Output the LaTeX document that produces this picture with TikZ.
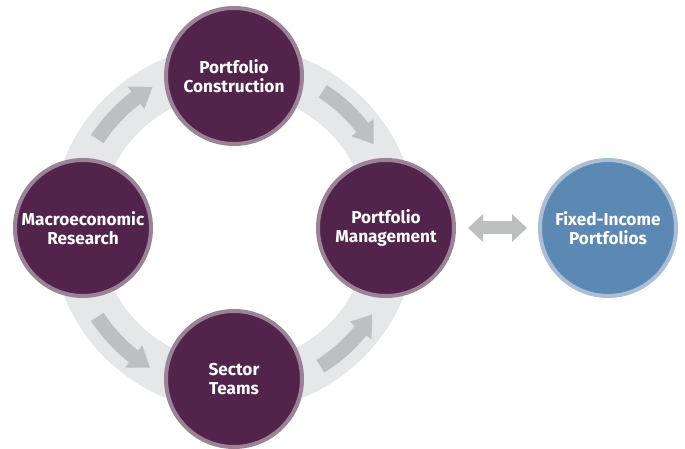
\documentclass[tikz,border=0pt]{standalone}
\usepackage{fontspec}
\setmainfont{Fira Sans}
\usetikzlibrary{arrows.meta,calc}
\definecolor{plum}{RGB}{82,36,75}
\definecolor{plumedge}{RGB}{155,130,150}
\definecolor{steel}{RGB}{92,137,180}
\definecolor{steeledge}{RGB}{170,190,214}
\definecolor{ringgray}{RGB}{230,231,233}
\definecolor{arrowgray}{RGB}{190,191,193}
\newcommand{\ringarrow}[3]{%
  \fill[arrowgray] ($(c)+(#1:155.5)$) arc[start angle=#1, end angle=#2, radius=155.5]
    -- ($(c)+(#2:149)$) -- ($(c)+(#3:163)$) -- ($(c)+(#2:177)$)
    -- ($(c)+(#2:170.5)$) arc[start angle=#2, end angle=#1, radius=170.5] -- cycle;}
\begin{document}
\begin{tikzpicture}[x=1pt,y=1pt,
  hub/.style={circle, minimum size=136pt, inner sep=0pt, line width=4pt,
    font=\bfseries\fontsize{17.2}{19.5}\selectfont, text=white, align=center},
  plumhub/.style={hub, fill=plum, draw=plumedge},
  steelhub/.style={hub, fill=steel, draw=steeledge},
  dblarrow/.style={draw=arrowgray, line width=13pt,
    {Triangle[length=15pt,width=27pt]}-{Triangle[length=15pt,width=27pt]}}]
\useasboundingbox (0,0) rectangle (685,449);
\fill[white] (0,0) rectangle (685,449);
\coordinate (c) at (234,221);
\draw[ringgray, line width=48pt] (c) circle[radius=159];
\ringarrow{147}{127}{120}
\ringarrow{57}{38}{31}
\ringarrow{213}{232}{239}
\ringarrow{302}{321}{328}
\node[plumhub] (pc) at (234,373) {Portfolio\\Construction};
\node[plumhub] (mr) at (83,221) {Macroeconomic\\Research};
\node[plumhub] (pm) at (386,221) {Portfolio\\Management};
\node[plumhub] (st) at (234,70) {Sector\\Teams};
\node[steelhub] (fi) at (608,221) {Fixed-Income\\Portfolios};
\draw[dblarrow, shorten <=12pt, shorten >=11pt] (pm) -- (fi);
\end{tikzpicture}
\end{document}
